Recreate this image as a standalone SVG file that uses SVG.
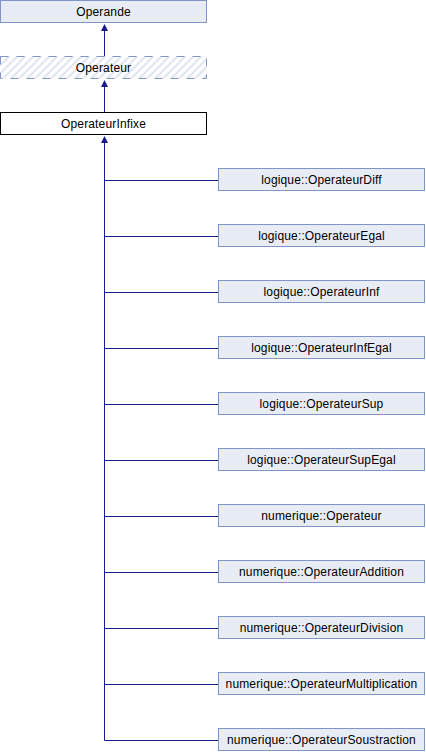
<svg xmlns="http://www.w3.org/2000/svg" width="426" height="752" viewBox="0 0 426 752">
<style>
  .box { fill: #e8ecf5; stroke: #7f94c7; stroke-width: 1; }
  .abstract { fill: url(#hatch); stroke: #7f94c7; stroke-width: 1; stroke-dasharray: 8 8; }
  .cur { fill: #ffffff; stroke: #000000; stroke-width: 1; }
  .lbl { font-family: "Liberation Sans", Arial, sans-serif; font-size: 12px; letter-spacing: 0.15px; fill: #000000; text-anchor: middle; }
  .edge { stroke: #1a1a8c; stroke-width: 1; fill: none; }
  .head { fill: #1a1a8c; stroke: none; }
</style>
<defs>
  <pattern id="hatch" patternUnits="userSpaceOnUse" width="5.66" height="5.66" patternTransform="rotate(45)">
    <rect x="0" y="0" width="5.66" height="5.66" fill="#ffffff"/>
    <rect x="0" y="0" width="2.2" height="5.66" fill="#dfe5f1"/>
  </pattern>
</defs>
<rect x="0" y="0" width="426" height="752" fill="#ffffff"/>

<g id="connectors">
  <line class="edge" x1="104.5" y1="56" x2="104.5" y2="28"/>
  <polygon class="head" points="104.5,24 101,31 108,31"/>
  <line class="edge" x1="104.5" y1="112" x2="104.5" y2="84"/>
  <polygon class="head" points="104.5,80 101,87 108,87"/>
  <line class="edge" x1="104.5" y1="140" x2="104.5" y2="740.5"/>
  <polygon class="head" points="104.5,136 101,143 108,143"/>
  <line class="edge" x1="104.5" y1="180.5" x2="218" y2="180.5"/>
  <line class="edge" x1="104.5" y1="236.5" x2="218" y2="236.5"/>
  <line class="edge" x1="104.5" y1="292.5" x2="218" y2="292.5"/>
  <line class="edge" x1="104.5" y1="348.5" x2="218" y2="348.5"/>
  <line class="edge" x1="104.5" y1="404.5" x2="218" y2="404.5"/>
  <line class="edge" x1="104.5" y1="460.5" x2="218" y2="460.5"/>
  <line class="edge" x1="104.5" y1="516.5" x2="218" y2="516.5"/>
  <line class="edge" x1="104.5" y1="572.5" x2="218" y2="572.5"/>
  <line class="edge" x1="104.5" y1="628.5" x2="218" y2="628.5"/>
  <line class="edge" x1="104.5" y1="684.5" x2="218" y2="684.5"/>
  <line class="edge" x1="104.5" y1="740.5" x2="218" y2="740.5"/>
</g>

<g id="Operande">
  <rect class="box" x="0.5" y="0.5" width="206" height="22"/>
  <text class="lbl" x="103.5" y="15.5">Operande</text>
</g>
<g id="Operateur">
  <rect class="abstract" x="0.5" y="56.5" width="206" height="22"/>
  <text class="lbl" x="103.5" y="71.5">Operateur</text>
</g>
<g id="OperateurInfixe">
  <rect class="cur" x="0.5" y="112.5" width="206" height="22"/>
  <text class="lbl" x="103.5" y="127.5">OperateurInfixe</text>
</g>

<g id="logique_OperateurDiff">
  <rect class="box" x="218.5" y="168.5" width="206" height="22"/>
  <text class="lbl" x="321.5" y="183.5">logique::OperateurDiff</text>
</g>
<g id="logique_OperateurEgal">
  <rect class="box" x="218.5" y="224.5" width="206" height="22"/>
  <text class="lbl" x="321.5" y="239.5">logique::OperateurEgal</text>
</g>
<g id="logique_OperateurInf">
  <rect class="box" x="218.5" y="280.5" width="206" height="22"/>
  <text class="lbl" x="321.5" y="295.5">logique::OperateurInf</text>
</g>
<g id="logique_OperateurInfEgal">
  <rect class="box" x="218.5" y="336.5" width="206" height="22"/>
  <text class="lbl" x="321.5" y="351.5">logique::OperateurInfEgal</text>
</g>
<g id="logique_OperateurSup">
  <rect class="box" x="218.5" y="392.5" width="206" height="22"/>
  <text class="lbl" x="321.5" y="407.5">logique::OperateurSup</text>
</g>
<g id="logique_OperateurSupEgal">
  <rect class="box" x="218.5" y="448.5" width="206" height="22"/>
  <text class="lbl" x="321.5" y="463.5">logique::OperateurSupEgal</text>
</g>
<g id="numerique_Operateur">
  <rect class="box" x="218.5" y="504.5" width="206" height="22"/>
  <text class="lbl" x="321.5" y="519.5">numerique::Operateur</text>
</g>
<g id="numerique_OperateurAddition">
  <rect class="box" x="218.5" y="560.5" width="206" height="22"/>
  <text class="lbl" x="321.5" y="575.5">numerique::OperateurAddition</text>
</g>
<g id="numerique_OperateurDivision">
  <rect class="box" x="218.5" y="616.5" width="206" height="22"/>
  <text class="lbl" x="321.5" y="631.5">numerique::OperateurDivision</text>
</g>
<g id="numerique_OperateurMultiplication">
  <rect class="box" x="218.5" y="672.5" width="206" height="22"/>
  <text class="lbl" x="321.5" y="687.5">numerique::OperateurMultiplication</text>
</g>
<g id="numerique_OperateurSoustraction">
  <rect class="box" x="218.5" y="728.5" width="206" height="22"/>
  <text class="lbl" x="321.5" y="743.5">numerique::OperateurSoustraction</text>
</g>
</svg>
